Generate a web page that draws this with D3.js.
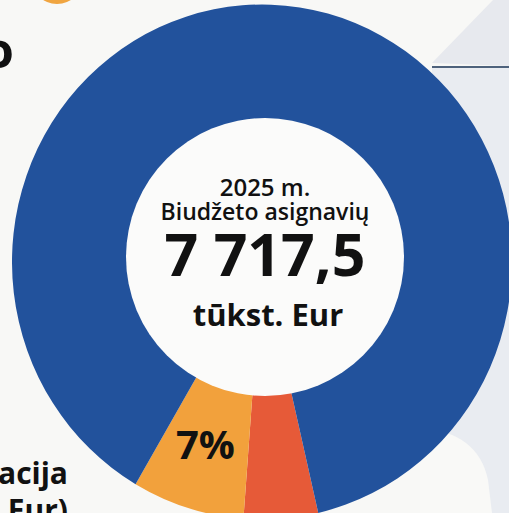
<!DOCTYPE html>
<html>
<head>
<meta charset="utf-8">
<script src="https://cdn.jsdelivr.net/npm/d3@7"></script>
<style>
  html, body { margin: 0; padding: 0; background: #f8f8f6; }
  svg { display: block; font-family: "Open Sans", "Noto Sans", sans-serif; }
</style>
</head>
<body>
<svg id="chart" width="509" height="513"></svg>
<script>
"use strict";

// budget shares, thousand EUR (order = clockwise from bottom-right)
const categories = ["Programa B", "Programa A", "Kitos programos"];
const values = [370, 560, 6787.5];
const colors = ["#e65a38", "#f2a13c", "#22529c"];
const centerLines = ["2025 m.", "Biudžeto asignavių", "7 717,5", "tūkst. Eur"];
const labelled = ["Programa A"];

const svg = d3.select("#chart");
const cx = 262, cy = 262, rOuter = 250, rInner = 100, sy = 1.03;

// background decoration
svg.append("path")
  .attr("d", "M432,63 L493,0 L509,0 L509,66 Z")
  .attr("fill", "#e7e9ee");
svg.append("rect")
  .attr("x", 432).attr("y", 68).attr("width", 77).attr("height", 445)
  .attr("fill", "#e9ecf1");
svg.append("path")
  .attr("d", "M420,428 Q478,432 488,480 L492,513 L420,513 Z")
  .attr("fill", "#f9f9f7");
svg.append("line")
  .attr("x1", 432).attr("x2", 509).attr("y1", 67).attr("y2", 67)
  .attr("stroke", "#4e627c").attr("stroke-width", 2);
svg.append("circle")
  .attr("cx", 57).attr("cy", -22).attr("r", 26)
  .attr("fill", "#f0a540");

const pie = d3.pie()
  .sort(null)
  .startAngle(167 * Math.PI / 180)
  .endAngle(167 * Math.PI / 180 + 2 * Math.PI);
const arcs = pie(values);

const arc = d3.arc().innerRadius(rInner).outerRadius(rOuter);
const labelArc = d3.arc().innerRadius(137).outerRadius(rOuter);

const ring = svg.append("g")
  .attr("transform", `translate(${cx},${cy}) scale(1,${sy})`);
ring.selectAll("path")
  .data(arcs)
  .join("path")
  .attr("d", arc)
  .attr("fill", (d, i) => colors[i]);

// hole
svg.append("circle")
  .attr("cx", 265).attr("cy", 257).attr("r", 139)
  .attr("fill", "#fbfbfa");

const total = d3.sum(values);
svg.selectAll("text.pct")
  .data(arcs.filter((d, i) => labelled.includes(categories[i])))
  .join("text")
  .attr("class", "pct")
  .attr("x", d => cx + 1 + labelArc.centroid(d)[0])
  .attr("y", d => cy + labelArc.centroid(d)[1] * sy)
  .attr("dy", "0.17em")
  .attr("text-anchor", "middle")
  .attr("font-size", 40)
  .attr("font-weight", 700)
  .attr("fill", "#111")
  .text(d => Math.round(d.value / total * 100) + "%");

// centre text
const center = svg.append("g").attr("text-anchor", "middle").attr("fill", "#111");
center.append("text").attr("x", 265).attr("y", 196)
  .attr("font-size", 24).attr("font-weight", 600).text(centerLines[0]);
center.append("text").attr("x", 265).attr("y", 220)
  .attr("font-size", 23).attr("font-weight", 600).text(centerLines[1]);
center.append("text").attr("x", 265).attr("y", 276)
  .attr("font-size", 59).attr("font-weight", 700).text(centerLines[2]);
center.append("text").attr("x", 268).attr("y", 326)
  .attr("font-size", 31).attr("font-weight", 700).text(centerLines[3]);

// cut-off text on the left
const side = svg.append("g").attr("text-anchor", "end").attr("fill", "#111")
  .attr("font-weight", 700);
side.append("text").attr("x", 14).attr("y", 68).attr("font-size", 50).text("o");
side.append("text").attr("x", 68).attr("y", 484).attr("font-size", 30).text("acija");
side.append("text").attr("x", 68).attr("y", 521).attr("font-size", 30).text("t. Eur)");
</script>
</body>
</html>
